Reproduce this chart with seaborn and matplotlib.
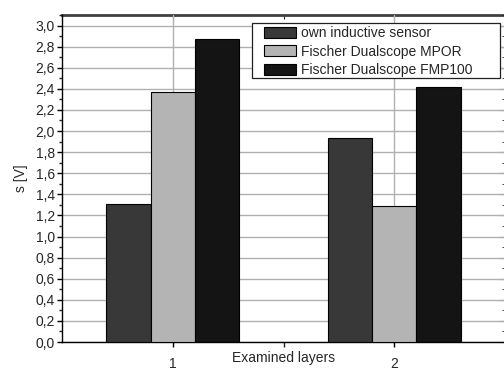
import matplotlib
matplotlib.use("Agg")
import matplotlib.pyplot as plt
import seaborn as sns
import pandas as pd
from matplotlib.ticker import MultipleLocator, FixedLocator
from matplotlib.patches import Rectangle

layers = ["1", "2"]
series = ["own inductive sensor", "Fischer Dualscope MPOR", "Fischer Dualscope FMP100"]
own = [1.31, 1.93]
mpor = [2.37, 1.29]
fmp = [2.87, 2.42]
colors = ["#383838", "#b4b4b4", "#141414"]

rows = []
for name, vals in zip(series, [own, mpor, fmp]):
    for l, v in zip(layers, vals):
        rows.append({"layer": l, "series": name, "value": v})
df = pd.DataFrame(rows)

sns.set_style("ticks")
plt.rcParams["font.family"] = ["Liberation Sans", "DejaVu Sans"]

W, H = 504, 371
fig = plt.figure(figsize=(W / 100, H / 100), dpi=100)
ax = fig.add_axes([62 / W, 29 / H, 443 / W, 327 / H])

sns.barplot(data=df, x="layer", y="value", hue="series", hue_order=series,
            order=layers, palette=colors, width=0.6, edgecolor="black",
            linewidth=0.8, saturation=1, ax=ax, zorder=3)

ax.set_xlim(-0.5, 1.5)
ax.set_ylim(0, 3.1)
ax.yaxis.set_major_locator(MultipleLocator(0.2))
ax.yaxis.set_minor_locator(MultipleLocator(0.1))
ax.set_yticks(ax.get_yticks())
ax.set_yticklabels([f"{t:.1f}".replace(".", ",") for t in ax.get_yticks()])
ax.set_ylim(0, 3.1)
ax.xaxis.set_minor_locator(FixedLocator([0.5]))
ax.set_xticks([0, 1])
ax.set_xticklabels(layers)

ax.grid(True, which="major", axis="both", color="#b0b0b0", linewidth=1.0, zorder=0)
ax.set_axisbelow(True)

ax.tick_params(axis="y", which="major", labelsize=10, length=3.6, width=1, color="black", pad=1.5)
ax.tick_params(axis="x", which="major", labelsize=10, length=3.6, width=1, color="black", pad=7.3)
ax.tick_params(axis="y", which="minor", length=2, width=1)
ax.tick_params(axis="x", which="minor", length=3.6, width=1)
ax.tick_params(axis="both", which="both", direction="out", top=False, right=False)

ax2 = ax.secondary_xaxis("top")
ax2.set_xticks([0, 0.5])
ax2.tick_params(direction="in", length=3, labeltop=False)
ax2.set_xticklabels([])
ax3 = ax.secondary_yaxis("right")
ax3.yaxis.set_major_locator(MultipleLocator(0.2))
ax3.yaxis.set_minor_locator(MultipleLocator(0.1))
ax3.tick_params(direction="in", which="major", length=4, labelright=False)
ax3.tick_params(direction="in", which="minor", length=2)

for s in ["left", "bottom"]:
    ax.spines[s].set_color("black")
    ax.spines[s].set_linewidth(1)
ax.spines["top"].set_visible(False)
ax.spines["right"].set_visible(False)
ax2.spines["top"].set_color("#404040")
ax2.spines["top"].set_linewidth(2)

ax.set_xlabel("Examined layers", fontsize=10, labelpad=-14.3)
ax.set_ylabel("s [V]", fontsize=10, labelpad=5)

# legend frame (drawn separately to match the wide right padding)
frame = Rectangle((252 / W, 1 - 78 / H), 248 / W, 55 / H, transform=fig.transFigure,
                  facecolor="white", edgecolor="#202020", linewidth=0.9, zorder=9)
fig.add_artist(frame)

handles, labels = ax.get_legend_handles_labels()
ax.get_legend().remove() if ax.get_legend() else None
leg = fig.legend(handles, labels, loc="upper left", bbox_to_anchor=(264 / W, 1 - 26 / H),
                 bbox_transform=fig.transFigure, fontsize=10, frameon=False,
                 handlelength=2.3, handleheight=0.86, borderpad=0, labelspacing=0.33,
                 handletextpad=0.35, borderaxespad=0)
leg.set_zorder(10)

fig.savefig("out.png", dpi=100)
